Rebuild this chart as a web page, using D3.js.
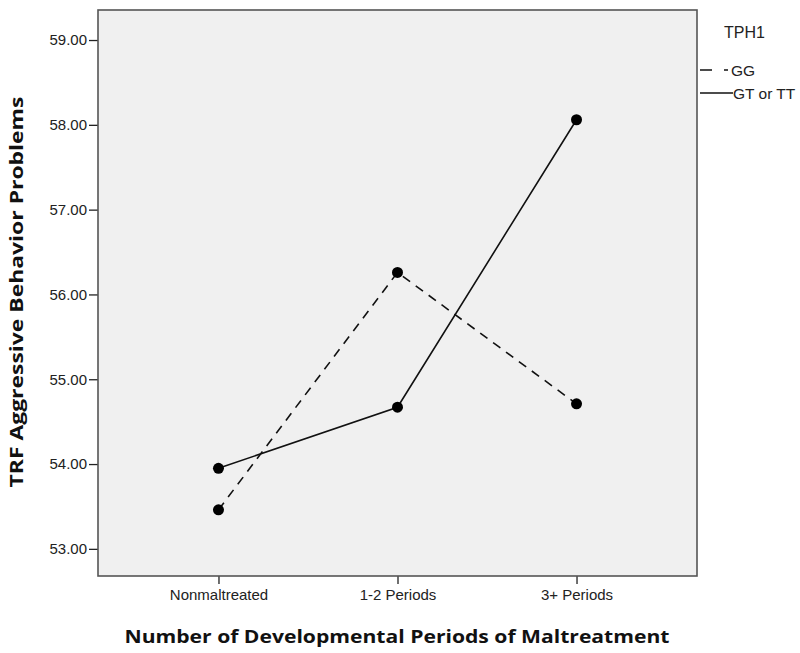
<!DOCTYPE html>
<html>
<head>
<meta charset="utf-8">
<script src="https://cdn.jsdelivr.net/npm/d3@7"></script>
<style>
  html, body { margin: 0; padding: 0; background: #ffffff; }
  svg { display: block; }
</style>
</head>
<body>
<svg id="chart" width="800" height="653"></svg>
<script>
const categories = ["Nonmaltreated", "1-2 Periods", "3+ Periods"];
const seriesNames = ["GG", "GT or TT"];
const ggValues = [53.46, 56.26, 54.71];
const gtValues = [53.95, 54.67, 58.06];
const yTicks = [53, 54, 55, 56, 57, 58, 59];
const legendTitle = "TPH1";
const yLabel = "TRF Aggressive Behavior Problems";
const xLabel = "Number of Developmental Periods of Maltreatment";

const svg = d3.select("#chart");
const plot = { left: 98, top: 10, right: 697, bottom: 576 };

const x = d3.scalePoint().domain(categories).range([plot.left, plot.right]).padding(0.673);
const y = d3.scaleLinear().domain([52.68, 59.354]).range([plot.bottom, plot.top]);

// plot background
svg.append("rect")
  .attr("x", plot.left).attr("y", plot.top)
  .attr("width", plot.right - plot.left).attr("height", plot.bottom - plot.top)
  .attr("fill", "#f0f0f0");

// axes
const yAxis = d3.axisLeft(y).tickValues(yTicks).tickFormat(d3.format(".2f")).tickSize(9).tickPadding(2);
const gy = svg.append("g").attr("transform", `translate(${plot.left},0)`).call(yAxis);
gy.select(".domain").remove();
gy.selectAll(".tick line").attr("stroke", "#222").attr("stroke-width", 1.3);
gy.selectAll(".tick text").attr("font-family", "Liberation Sans, Arial, sans-serif")
  .attr("font-size", 15).attr("fill", "#222");

const xAxis = d3.axisBottom(x).tickSize(8).tickPadding(5);
const gx = svg.append("g").attr("transform", `translate(0,${plot.bottom})`).call(xAxis);
gx.select(".domain").remove();
gx.selectAll(".tick line").attr("stroke", "#222").attr("stroke-width", 1.3);
gx.selectAll(".tick text").attr("font-family", "Liberation Sans, Arial, sans-serif")
  .attr("font-size", 15).attr("fill", "#222");

// frame
svg.append("rect")
  .attr("x", plot.left).attr("y", plot.top)
  .attr("width", plot.right - plot.left).attr("height", plot.bottom - plot.top)
  .attr("fill", "none").attr("stroke", "#555").attr("stroke-width", 1.6);

// lines
const line = d3.line().x((d, i) => x(categories[i])).y(d => y(d));
const series = [
  { name: seriesNames[0], values: ggValues, dash: "9,7" },
  { name: seriesNames[1], values: gtValues, dash: null }
];
series.forEach(s => {
  svg.append("path").datum(s.values)
    .attr("d", line)
    .attr("fill", "none")
    .attr("stroke", "#111")
    .attr("stroke-width", 1.6)
    .attr("stroke-dasharray", s.dash);
  svg.selectAll(null).data(s.values).enter().append("circle")
    .attr("cx", (d, i) => x(categories[i]))
    .attr("cy", d => y(d))
    .attr("r", 5.5)
    .attr("fill", "#000");
});

// axis titles
svg.append("text")
  .attr("x", 397).attr("y", 643)
  .attr("text-anchor", "middle")
  .attr("font-family", "Open Sans, DejaVu Sans, sans-serif")
  .attr("font-weight", 700)
  .attr("font-size", 18)
  .attr("fill", "#111")
  .attr("textLength", 545).attr("lengthAdjust", "spacingAndGlyphs")
  .text(xLabel);

svg.append("text")
  .attr("transform", "translate(23,292) rotate(-90)")
  .attr("text-anchor", "middle")
  .attr("font-family", "Open Sans, DejaVu Sans, sans-serif")
  .attr("font-weight", 700)
  .attr("font-size", 18)
  .attr("fill", "#111")
  .attr("textLength", 391).attr("lengthAdjust", "spacingAndGlyphs")
  .text(yLabel);

// legend
svg.append("text")
  .attr("x", 724).attr("y", 38)
  .attr("font-family", "Liberation Sans, Arial, sans-serif")
  .attr("font-size", 16).attr("fill", "#222")
  .text(legendTitle);

const legendRows = [
  { name: seriesNames[0], dash: "12,12", y: 70, x2: 728, tx: 731 },
  { name: seriesNames[1], dash: null, y: 93, x2: 733, tx: 733 }
];
legendRows.forEach(r => {
  svg.append("line")
    .attr("x1", 700).attr("x2", r.x2)
    .attr("y1", r.y).attr("y2", r.y)
    .attr("stroke", "#111").attr("stroke-width", 1.6)
    .attr("stroke-dasharray", r.dash);
  svg.append("text")
    .attr("x", r.tx).attr("y", r.y + 5.5)
    .attr("font-family", "Liberation Sans, Arial, sans-serif")
    .attr("font-size", 15.5).attr("fill", "#222")
    .text(r.name);
});
</script>
</body>
</html>
